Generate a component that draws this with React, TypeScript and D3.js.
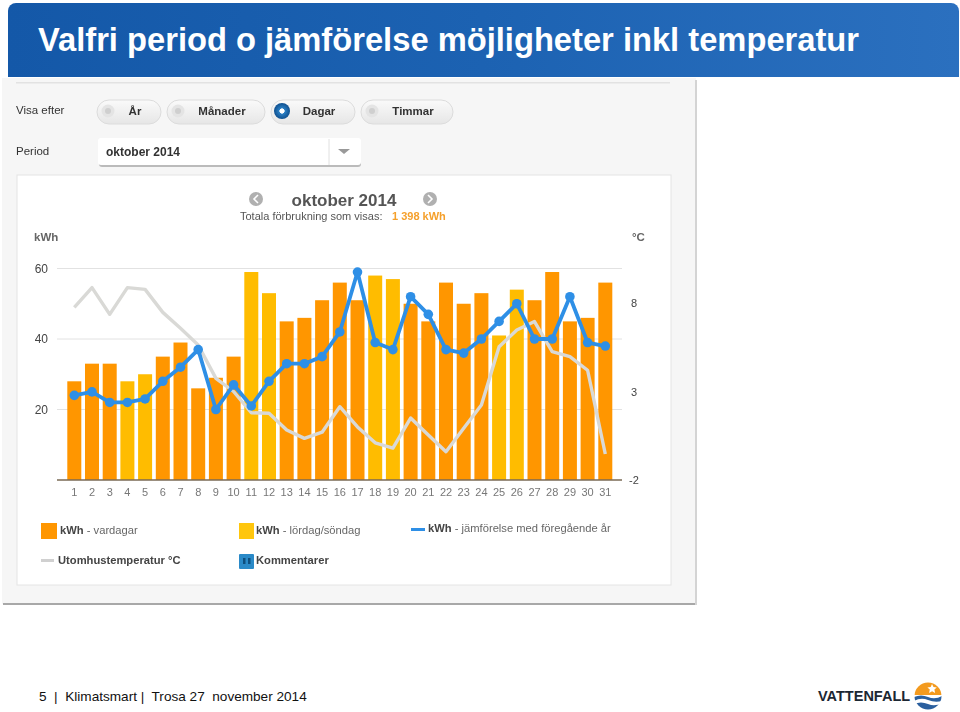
import React from "react";
import * as d3 from "d3";

const days = d3.range(1, 32);
const kwh = [28,33,33,28,30,35,39,26,29,35,59,53,45,46,51,56,51,58,57,50,45,56,50,53,41,54,51,59,45,46,56];
const weekendDays = [4,5,11,12,18,19,25,26];
const prevYear = [24,25,22,22,23,28,32,37,20,27,21,28,33,33,35,42,59,39,37,52,47,37,36,40,45,50,40,40,52,39,38];
const temperature = [7.75,8.87,7.36,8.87,8.77,7.47,6.57,5.63,3.74,3.0,1.8,1.77,0.82,0.35,0.7,2.14,1.0,0.1,-0.2,1.5,0.54,-0.4,0.92,2.24,5.53,6.47,6.95,5.25,4.97,4.2,-0.53];
const kwhTicks = [20,40,60];
const tempTicks = [-2,3,8];
const radios = [["År",97,161,false,135],["Månader",167,265,false,222],["Dagar",271,355,true,319],["Timmar",361,453,false,413]] as const;

const ORANGE = "#ff9600";
const YELLOW = "#ffbc00";
const BLUE = "#2e8fe6";
const GREY = "#d9d9d6";
const FONT = "'Liberation Sans', Arial, sans-serif";

export default function App() {
  const x = d3.scaleLinear().domain([1, 31]).range([74.3, 605.3]);
  const y = d3.scaleLinear().domain([0, 60]).range([480, 268.5]);
  const yT = d3.scaleLinear().domain([-2, 8]).range([480, 303]);
  const lineBlue = d3.line<number>().x((_, i) => x(days[i])).y(d => y(d));
  const lineTemp = d3.line<number>().x((_, i) => x(days[i])).y(d => yT(d));
  return (
    <svg width={960} height={712} style={{ position: "absolute", left: 0, top: 0, display: "block" }} fontFamily={FONT}>
      <defs>
        <linearGradient id="hdr" x1="0" x2="1" y1="0" y2="0">
          <stop offset="0" stopColor="#1458a8" />
          <stop offset="0.5" stopColor="#1c62b2" />
          <stop offset="1" stopColor="#2b70bf" />
        </linearGradient>
        <linearGradient id="btn" x1="0" x2="0" y1="0" y2="1">
          <stop offset="0" stopColor="#fafafa" />
          <stop offset="1" stopColor="#e6e6e6" />
        </linearGradient>
        <radialGradient id="on">
          <stop offset="0.3" stopColor="#ffffff" />
          <stop offset="0.35" stopColor="#2a7fc4" />
          <stop offset="1" stopColor="#10508f" />
        </radialGradient>
        <filter id="soft"><feGaussianBlur stdDeviation="0.5" /></filter>
      </defs>
      <rect width={960} height={712} fill="#fff" />
      <path d="M8 77 V11 a8 8 0 0 1 8 -8 H951 a8 8 0 0 1 8 8 V77 Z" fill="url(#hdr)" />
      <text x={38} y={51} fontSize={32.7} fontWeight={700} fill="#fff">Valfri period o jämförelse möjligheter inkl temperatur</text>

      <g filter="url(#soft)">
        <rect x={2} y={78} width={694} height={526} fill="#f6f6f6" />
        <rect x={3} y={603} width={694} height={2} fill="#a8a8a8" />
        <rect x={695} y={80} width={2} height={525} fill="#d4d4d4" />
        <rect x={16} y={82} width={654} height={1.5} fill="#e2e2e2" />
        <text x={16} y={114} fontSize={11.5} fill="#333">Visa efter</text>
        <text x={16} y={155} fontSize={11.5} fill="#333">Period</text>
        {radios.map(([label, x0, x1, on, tx]) => (
          <g key={label}>
            <rect x={x0} y={100} width={x1 - x0} height={24} rx={12} fill="url(#btn)" stroke="#dcdcdc" />
            <circle cx={x0 + 11} cy={111} r={on ? 8 : 6.5} fill={on ? "url(#on)" : "#e4e4e4"} />
            {!on && <circle cx={x0 + 11} cy={111} r={3} fill="#cfcfcf" />}
            <text x={tx} y={114.5} fontSize={11.5} fontWeight={700} fill="#333" textAnchor="middle">{label}</text>
          </g>
        ))}
        <rect x={99} y={140} width={262} height={27} rx={3} fill="#bbb" />
        <rect x={98} y={138} width={263} height={27} rx={3} fill="#fff" />
        <line x1={329} x2={329} y1={139} y2={165} stroke="#e0e0e0" />
        <path d="M338 149 h12 l-6 5 z" fill="#999" />
        <text x={106} y={156} fontSize={12} fontWeight={700} fill="#333">oktober 2014</text>

        <rect x={17} y={175} width={654} height={410} fill="#fff" stroke="#e4e4e4" />
        <circle cx={256} cy={199} r={7} fill="#b0b0b0" />
        <path d="M258 195 l-4 4 l4 4" fill="none" stroke="#fff" strokeWidth={1.6} />
        <circle cx={430} cy={199} r={7} fill="#b0b0b0" />
        <path d="M428 195 l4 4 l-4 4" fill="none" stroke="#fff" strokeWidth={1.6} />
        <text x={344} y={206} fontSize={17} fontWeight={700} fill="#555" textAnchor="middle">oktober 2014</text>
        <text x={240} y={220} fontSize={11} fill="#555">Totala förbrukning som visas:</text>
        <text x={392} y={220} fontSize={11} fontWeight={700} fill="#f5a02c">1 398 kWh</text>
        <text x={34} y={241} fontSize={11.5} fontWeight={700} fill="#666">kWh</text>
        <text x={632} y={241} fontSize={11.5} fontWeight={700} fill="#666">°C</text>

        {kwhTicks.map(t => (
          <g key={t}>
            <line x1={57} x2={622} y1={y(t)} y2={y(t)} stroke="#e2e2e2" />
            <text x={48} y={y(t) + 4} fontSize={12} fill="#444" textAnchor="end">{t}</text>
          </g>
        ))}
        {days.map((d, i) => (
          <g key={d}>
            <rect x={x(d) - 7} y={y(kwh[i])} width={14} height={480 - y(kwh[i])} fill={weekendDays.includes(d) ? YELLOW : ORANGE} />
            <text x={x(d)} y={496} fontSize={11} fill="#777" textAnchor="middle">{d}</text>
          </g>
        ))}
        <line x1={57} x2={622} y1={480} y2={480} stroke="#7a6a55" strokeWidth={1.5} />
        {tempTicks.map(t => (
          <text key={t} x={634} y={yT(t) + 4} fontSize={11} fill="#444" textAnchor="middle">{t}</text>
        ))}
        <path d={lineTemp(temperature) ?? ""} fill="none" stroke={GREY} strokeWidth={3.4} strokeLinejoin="round" />
        <path d={lineBlue(prevYear) ?? ""} fill="none" stroke={BLUE} strokeWidth={3.8} strokeLinejoin="round" />
        {prevYear.map((v, i) => <circle key={i} cx={x(days[i])} cy={y(v)} r={4.8} fill={BLUE} />)}

        <rect x={41} y={523} width={16} height={16} fill={ORANGE} />
        <text x={60} y={534} fontSize={11.2} fill="#666"><tspan fontWeight={700} fill="#444">kWh</tspan> - vardagar</text>
        <rect x={239} y={523} width={15} height={16} fill="#ffc60a" />
        <text x={256} y={534} fontSize={11.2} fill="#666"><tspan fontWeight={700} fill="#444">kWh</tspan> - lördag/söndag</text>
        <rect x={411} y={528} width={14} height={3} fill={BLUE} />
        <text x={428} y={532} fontSize={11.2} fill="#666"><tspan fontWeight={700} fill="#444">kWh</tspan> - jämförelse med föregående år</text>
        <rect x={41} y={559} width={13} height={3} fill="#d0d0d0" />
        <text x={58} y={564} fontSize={11.2} fontWeight={700} fill="#444">Utomhustemperatur °C</text>
        <rect x={239} y={554} width={15} height={15} rx={1} fill="#2a8ac8" />
        <rect x={243} y={558} width={2.5} height={6} fill="#10507f" />
        <rect x={248} y={558} width={2.5} height={6} fill="#10507f" />
        <text x={256} y={564} fontSize={11.2} fontWeight={700} fill="#444">Kommentarer</text>
      </g>

      <text x={39} y={701} fontSize={13.6} fill="#111" xmlSpace="preserve">5  |  Klimatsmart |  Trosa 27  november 2014</text>

      <text x={818} y={701} fontSize={14.5} fontWeight={700} fill="#1c2733">VATTENFALL</text>
      <clipPath id="logo"><circle cx={928} cy={696} r={13.5} /></clipPath>
      <g clipPath="url(#logo)">
        <rect x={914} y={682} width={28} height={13} fill="#f39a1e" />
        <path d="M914 697 q7 -3 14 0 t14 -1 v5 q-7 2 -14 -1 t-14 1 z" fill="#2a5f9e" />
        <path d="M914 704 q7 -3 14 0 t14 -1 v7 h-28 z" fill="#2a5f9e" />
      </g>
      <path d="M932 684 l1.5 3 l3.3 .4 l-2.4 2.2 l.7 3.3 l-3 -1.7 l-3 1.7 l.7 -3.3 l-2.4 -2.2 l3.3 -.4 z" fill="#fff" />
    </svg>
  );
}
